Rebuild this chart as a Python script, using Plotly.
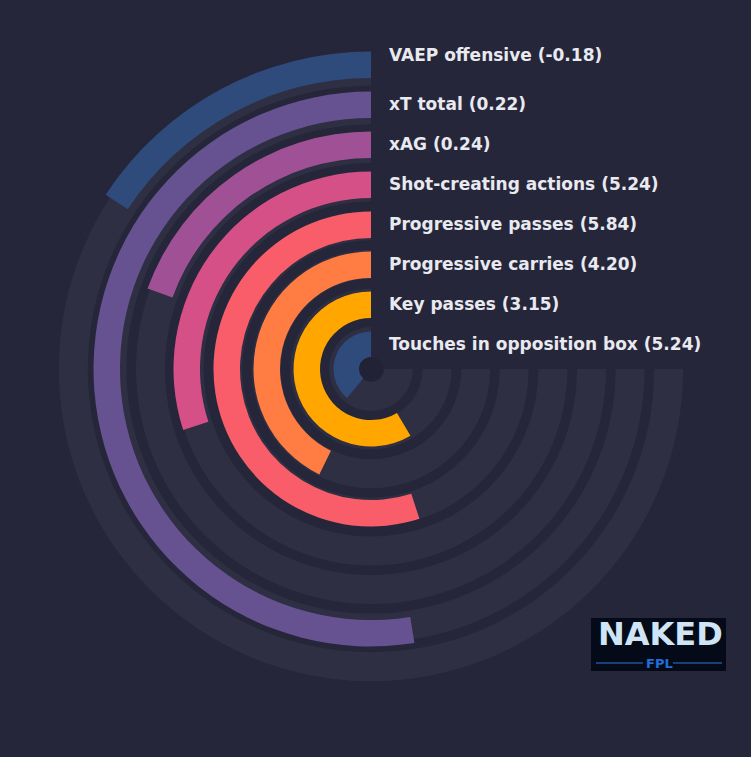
import plotly.graph_objects as go

# metrics listed from the outer ring inwards
metrics = [
    "VAEP offensive",
    "xT total",
    "xAG",
    "Shot-creating actions",
    "Progressive passes",
    "Progressive carries",
    "Key passes",
    "Touches in opposition box",
]
values = [-0.18, 0.22, 0.24, 5.24, 5.84, 4.20, 3.15, 5.24]
percentiles = [21, 70, 26, 40, 73.3, 57, 78, 52]
colors = ["#2f4b7c", "#665191", "#a05195", "#d45087",
          "#f95d6a", "#ff7c43", "#ffa600", "#2f4b7c"]

W, H = 751, 757
CX, CY = 371, 369          # centre of the rings in pixels
RMAX = 320                 # radial axis range, 1 unit = 1 px
BG = "#252639"
TRACK = "#2e2f43"
MAX_ANGLE = 270


def px(x):
    return x / W


def py(y):
    return 1 - y / H


n = len(metrics)
# index 0 = outermost ring
ring = [n - 1 - i for i in range(n)]
track_outer = [42 + 38.6 * k for k in ring]
track_base = [max(o - 29, 12) for o in track_outer]
bar_outer = [37.5 + 40 * k for k in ring]
bar_base = [max(o - 26.5, 11) for o in bar_outer]
spans = [p / 100 * MAX_ANGLE for p in percentiles]

fig = go.Figure()

# grey background tracks (270 degrees)
fig.add_trace(go.Barpolar(
    r=[o - b for o, b in zip(track_outer, track_base)],
    base=track_base,
    theta=[MAX_ANGLE / 2] * n,
    width=[MAX_ANGLE] * n,
    marker=dict(color=TRACK, line=dict(width=0)),
    hoverinfo="skip",
))

# coloured percentile bars
fig.add_trace(go.Barpolar(
    r=[o - b for o, b in zip(bar_outer, bar_base)],
    base=bar_base,
    theta=[s / 2 for s in spans],
    width=spans,
    marker=dict(color=colors, line=dict(width=0)),
    text=metrics,
    hovertemplate="%{text}<extra></extra>",
))

# dark centre dot
fig.add_trace(go.Scatterpolar(
    r=[0], theta=[0], mode="markers",
    marker=dict(size=24, color="#222236", line=dict(width=0)),
    hoverinfo="skip",
))

annotations = []
for i, (m, v) in enumerate(zip(metrics, values)):
    mid = CY - (bar_outer[i] - 13.25) - 1
    if i == 0:
        mid -= 9
    annotations.append(dict(
        x=px(387), y=py(mid), xref="paper", yref="paper",
        xanchor="left", yanchor="middle", showarrow=False,
        text=f"{m} ({v:.2f})",
        font=dict(family="DejaVu Sans", size=17, color="#e9e9f0", weight="bold"),
    ))

# logo badge
annotations.append(dict(
    x=px(660), y=py(634), xref="paper", yref="paper",
    xanchor="center", yanchor="middle", showarrow=False, text="NAKED",
    font=dict(family="DejaVu Sans", size=32, color="#cfe5f6", weight="bold"),
))
annotations.append(dict(
    x=px(659), y=py(663), xref="paper", yref="paper",
    xanchor="center", yanchor="middle", showarrow=False, text="FPL",
    font=dict(family="DejaVu Sans", size=13, color="#1f6fd6", weight="bold"),
))

shapes = [
    dict(type="rect", xref="paper", yref="paper",
         x0=px(591), x1=px(726), y0=py(671), y1=py(618),
         fillcolor="#040a18", line=dict(width=0), layer="below"),
    dict(type="line", xref="paper", yref="paper",
         x0=px(596), x1=px(643), y0=py(663), y1=py(663),
         line=dict(color="#2a78d8", width=1)),
    dict(type="line", xref="paper", yref="paper",
         x0=px(673), x1=px(722), y0=py(663), y1=py(663),
         line=dict(color="#2a78d8", width=1)),
]

fig.update_layout(
    width=W, height=H,
    margin=dict(l=0, r=0, t=0, b=0),
    paper_bgcolor=BG,
    plot_bgcolor=BG,
    showlegend=False,
    polar=dict(
        domain=dict(x=[px(CX - RMAX), px(CX + RMAX)],
                    y=[py(CY + RMAX), py(CY - RMAX)]),
        bgcolor=BG,
        barmode="overlay",
        hole=0,
        radialaxis=dict(range=[0, RMAX], visible=False, showgrid=False),
        angularaxis=dict(rotation=90, direction="counterclockwise",
                         visible=False, showgrid=False),
    ),
    annotations=annotations,
    shapes=shapes,
)

# drop the default page margin so the figure fills the window
fig.write_html(
    "out.html",
    config={"displayModeBar": False},
    post_script="document.body.style.margin='0';"
                "document.body.style.background='" + BG + "';",
)
